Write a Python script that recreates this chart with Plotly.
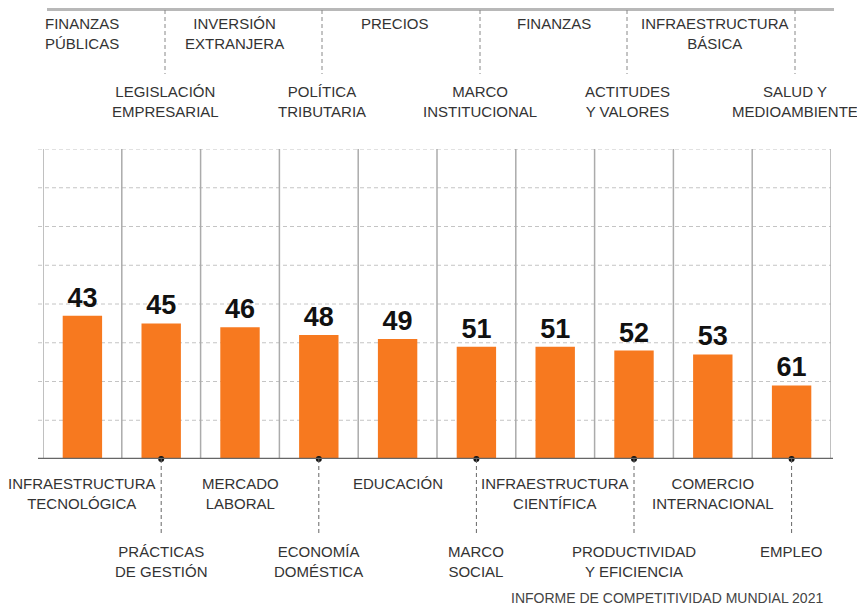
import plotly.graph_objects as go

# rankings (lower = better); bars are drawn as TOP - rank
CATEGORIES = [
    "INFRAESTRUCTURA<br>TECNOLÓGICA",
    "PRÁCTICAS<br>DE GESTIÓN",
    "MERCADO<br>LABORAL",
    "ECONOMÍA<br>DOMÉSTICA",
    "EDUCACIÓN",
    "MARCO<br>SOCIAL",
    "INFRAESTRUCTURA<br>CIENTÍFICA",
    "PRODUCTIVIDAD<br>Y EFICIENCIA",
    "COMERCIO<br>INTERNACIONAL",
    "EMPLEO",
]
RANKS = [43, 45, 46, 48, 49, 51, 51, 52, 53, 61]
TOP = 80

# labels of the chart above (only its foot is visible)
UPPER_TOP_LABELS = ["FINANZAS<br>PÚBLICAS", "INVERSIÓN<br>EXTRANJERA", "PRECIOS",
                    "FINANZAS", "INFRAESTRUCTURA<br>BÁSICA"]
UPPER_TOP_X = [82, 234, 395, 554, 715]
UPPER_LOW_LABELS = ["LEGISLACIÓN<br>EMPRESARIAL", "POLÍTICA<br>TRIBUTARIA",
                    "MARCO<br>INSTITUCIONAL", "ACTITUDES<br>Y VALORES",
                    "SALUD Y<br>MEDIOAMBIENTE"]
UPPER_LOW_X = [165, 322, 480, 627, 795]

SOURCE = "INFORME DE COMPETITIVIDAD MUNDIAL 2021"

ORANGE = "#F7791F"
LABEL_FONT = dict(family="Liberation Sans", size=15, color="#333333")

# the page body adds an 8px margin, so the figure is shrunk by that amount
OFF = 8
W, H = 865 - OFF, 606 - OFF
L, T = 43 - OFF, 149 - OFF
R = W - (831 - OFF)
B = H - (459 - OFF)
PW, PH = W - L - R, H - T - B


def px(x):
    # screen pixel x -> paper
    return (x - OFF - L) / PW


def py(y):
    # screen pixel y -> paper
    return (H - B - (y - OFF)) / PH


xs = list(range(len(RANKS)))
heights = [TOP - r for r in RANKS]

fig = go.Figure()
fig.add_trace(
    go.Bar(
        x=xs,
        y=heights,
        marker=dict(color=ORANGE, line=dict(width=0)),
        width=0.5,
        text=[str(r) for r in RANKS],
        textposition="outside",
        textfont=dict(family="Liberation Sans", size=27, color="#111111", weight="bold"),
        cliponaxis=False,
        hoverinfo="skip",
    )
)

lower = [i for i in xs if i % 2 == 1]
fig.add_trace(
    go.Scatter(
        x=lower,
        y=[0] * len(lower),
        mode="markers",
        marker=dict(color="#111111", size=6),
        cliponaxis=False,
        hoverinfo="skip",
    )
)

shapes = []
# horizontal dashed grid
for g in range(10, TOP + 1, 10):
    shapes.append(dict(type="line", xref="paper", yref="y", x0=px(38), x1=1, y0=g, y1=g,
                       line=dict(color="#c4c4c4", width=1, dash="4px,3px"), layer="below"))
# vertical separators
for i in range(len(RANKS) + 1):
    shapes.append(dict(type="line", xref="x", yref="y", x0=i - 0.5, x1=i - 0.5, y0=0, y1=TOP,
                       line=dict(color="#ababab", width=1.5), layer="below"))
# baseline
shapes.append(dict(type="line", xref="paper", yref="y", x0=px(38), x1=px(833), y0=0, y1=0,
                   line=dict(color="#666666", width=2.5)))
# leader lines for the lower row
for i in lower:
    shapes.append(dict(type="line", xref="x", yref="paper", x0=i, x1=i, y0=0, y1=py(536),
                       line=dict(color="#666666", width=1, dash="4px,3px")))
# foot of the upper chart
shapes.append(dict(type="line", xref="paper", yref="paper", x0=px(47), x1=px(834),
                   y0=py(OFF + 1.5), y1=py(OFF + 1.5), line=dict(color="#b8b8b8", width=3)))
for xp in UPPER_LOW_X:
    shapes.append(dict(type="line", xref="paper", yref="paper", x0=px(xp), x1=px(xp),
                       y0=py(OFF + 2), y1=py(74), line=dict(color="#888888", width=1, dash="4px,3px")))

annotations = []
for i, cat in enumerate(CATEGORIES):
    annotations.append(dict(x=i, xref="x", y=py(473 if i % 2 == 0 else 541), yref="paper",
                            text=cat, showarrow=False, xanchor="center", yanchor="top",
                            font=LABEL_FONT))
for lab, xp in zip(UPPER_TOP_LABELS, UPPER_TOP_X):
    annotations.append(dict(x=px(xp), xref="paper", y=py(13), yref="paper", text=lab,
                            showarrow=False, xanchor="center", yanchor="top", font=LABEL_FONT))
for lab, xp in zip(UPPER_LOW_LABELS, UPPER_LOW_X):
    annotations.append(dict(x=px(xp), xref="paper", y=py(81), yref="paper", text=lab,
                            showarrow=False, xanchor="center", yanchor="top", font=LABEL_FONT))
annotations.append(dict(x=px(825), xref="paper", y=py(598), yref="paper", text=SOURCE,
                        showarrow=False, xanchor="right", yanchor="middle",
                        font=dict(family="Liberation Sans", size=14, color="#444444")))

fig.update_layout(
    width=W,
    height=H,
    margin=dict(l=L, r=R, t=T, b=B, pad=0),
    plot_bgcolor="white",
    paper_bgcolor="white",
    showlegend=False,
    shapes=shapes,
    annotations=annotations,
)
fig.update_xaxes(range=[-0.5, len(RANKS) - 0.5], showgrid=False, zeroline=False,
                 showticklabels=False, showline=False, ticks="")
fig.update_yaxes(range=[0, TOP], showgrid=False, zeroline=False, showticklabels=False,
                 showline=False, ticks="")

fig.write_html("out.html")
